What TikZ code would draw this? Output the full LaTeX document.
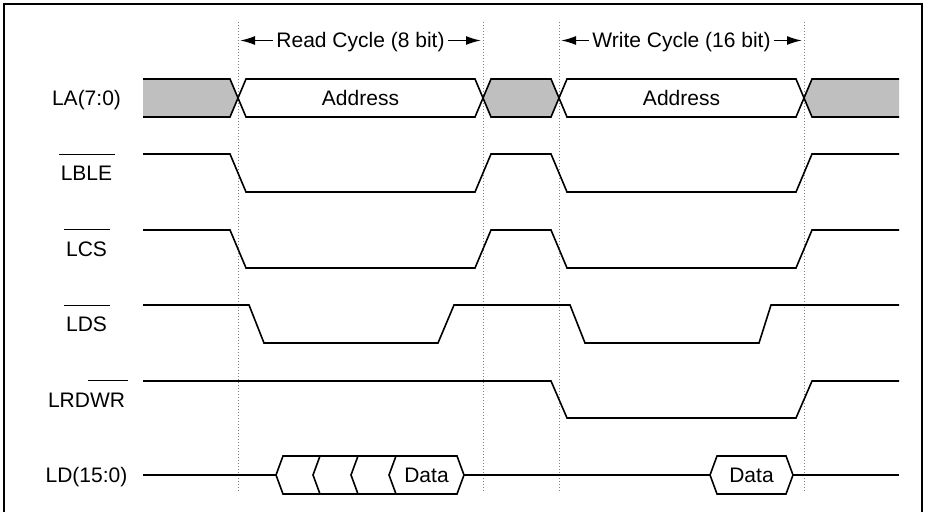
\documentclass[tikz,border=0pt]{standalone}
\usepackage{fontspec}
\setmainfont{Liberation Sans}
\usetikzlibrary{arrows.meta,positioning}

\newcommand\actlow[1]{\smash{\kern-1pt$\overline{\rule{0pt}{11.9pt}\kern1pt\mbox{#1}\kern1.5pt}$\kern-1.5pt}}

\begin{document}
\begin{tikzpicture}[x=0.5pt,y=-0.5pt,>={Latex[length=7.5pt,width=4.5pt]},node distance=37.7pt,line width=0.8pt,
    txt/.style={font=\fontsize{10.5}{12}\selectfont,text height=7.5pt,text depth=0pt,inner sep=1.5pt},
    guide/.style={densely dotted,gray,line width=0.5pt},
    bus/.style={fill=gray!50},
    frame/.style={line width=0.7pt}]
            \useasboundingbox (0,0) rectangle (925,512);
            \draw[frame] (4,512) -- (4,4) -- (922,4) -- (922,512);

            \node[txt] (la) at (86.5,98) {LA(7:0)};
            \node[txt] (lble) [below of = la] {\actlow{LBLE}};
            \node[txt] (lcs) [below of = lble] {\actlow{LCS}};
            \node[txt] (lds) [below of = lcs] {\actlow{LDS}};
            \node[txt] (lrdwr) [below of = lds] {LRD\actlow{WR}};
            \node[txt] (ld) [below of = lrdwr] {LD(15:0)};

            \coordinate (g1) at (238,22);
            \coordinate (g2) at (483,22);
            \coordinate (g3) at (559,22);
            \coordinate (g4) at (804,22);
            \foreach \g in {g1,g2,g3,g4}
                \draw[guide] (\g) -- ++(0,469);

            \node[txt] (rd) at (360.5,40.5) {Read Cycle (8 bit)};
            \node[txt] (wr) at (681.5,40.5) {Write Cycle (16 bit)};
            \path[->,shorten >=1pt]
                (rd.west) edge (rd.west -| g1)
                (rd.east) edge (rd.east -| g2)
                (wr.west) edge (wr.west -| g3)
                (wr.east) edge (wr.east -| g4)
                ;

            % LA(7:0)
            \fill[bus] (143,79) -- (230,79) -- (238,98) -- (230,117) -- (143,117) -- cycle;
            \draw (143,79) -- (230,79) -- (238,98) -- (230,117) -- (143,117);
            \draw (238,98) -- (246,79) -- (475,79) -- (483,98) -- (475,117) -- (246,117) -- cycle;
            \filldraw[bus] (483,98) -- (491,79) -- (551,79) -- (559,98) -- (551,117) -- (491,117) -- cycle;
            \draw (559,98) -- (567,79) -- (796,79) -- (804,98) -- (796,117) -- (567,117) -- cycle;
            \fill[bus] (899,79) -- (812,79) -- (804,98) -- (812,117) -- (899,117) -- cycle;
            \draw (899,79) -- (812,79) -- (804,98) -- (812,117) -- (899,117);
            \node[txt] (a1) at (360.5,98) {Address};
            \node[txt] (a2) at (681.5,98) {Address};

            % strobes
            \draw (143,154) -- (230,154) -- (246,192) -- (475,192) -- (491,154) -- (551,154) -- (567,192) -- (796,192) -- (812,154) -- (899,154);
            \draw (143,230) -- (230,230) -- (246,268) -- (475,268) -- (491,230) -- (551,230) -- (567,268) -- (796,268) -- (812,230) -- (899,230);
            \draw (143,305) -- (249,305) -- (264,343) -- (438,343) -- (454,305) -- (570,305) -- (585,343) -- (759,343) -- (771,305) -- (899,305);
            \draw (143,381) -- (551,381) -- (567,418) -- (796,418) -- (812,381) -- (899,381);

            % LD(15:0)
            \draw (143,475) -- (276,475);
            \draw (276,475) -- (283,456) -- (457,456) -- (464,475) -- (457,494) -- (283,494) -- cycle;
            \foreach \x in {313,351,389}
                \draw (\x+7,456) -- (\x,475) -- (\x+7,494);
            \draw (464,475) -- (710,475);
            \draw (710,475) -- (717,456) -- (786,456) -- (793,475) -- (786,494) -- (717,494) -- cycle;
            \draw (793,475) -- (899,475);
            \node[txt] (d1) at (426.5,475) {Data};
            \node[txt] (d2) at (751.5,475) {Data};
        \end{tikzpicture}
\end{document}
